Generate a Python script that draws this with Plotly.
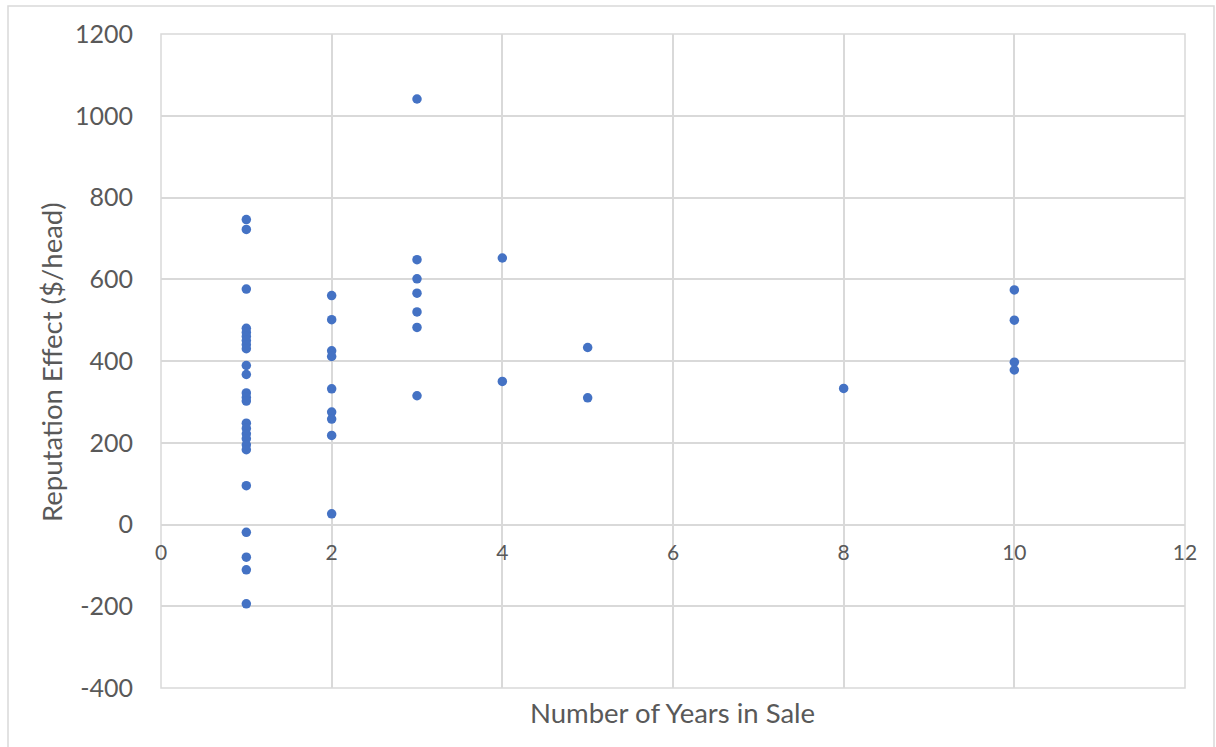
import plotly.graph_objects as go

# Data
effect_y1 = [746, 722, 576, 480, 470, 460, 450, 440, 430, 389, 367, 322, 311, 302,
             248, 235, 222, 210, 195, 183, 95, -19, -80, -111, -194]
effect_y2 = [560, 501, 425, 411, 332, 275, 258, 218, 26]
effect_y3 = [1041, 648, 601, 566, 520, 482, 315]
effect_y4 = [652, 350]
effect_y5 = [433, 310]
effect_y8 = [333]
effect_y10 = [574, 500, 397, 378]

groups = [(1, effect_y1), (2, effect_y2), (3, effect_y3), (4, effect_y4),
          (5, effect_y5), (8, effect_y8), (10, effect_y10)]
years = [yr for yr, vals in groups for _ in vals]
effects = [v for _, vals in groups for v in vals]

x_ticks = [0, 2, 4, 6, 8, 10, 12]
y_ticks = [-400, -200, 0, 200, 400, 600, 800, 1000, 1200]

FONT = "Lato"
GREY_TXT = "#595959"
GRID = "#d9d9d9"

fig = go.Figure()
fig.add_trace(go.Scatter(
    x=years, y=effects, mode="markers",
    marker=dict(color="#4472C4", size=9.5, line=dict(width=0)),
    showlegend=False, hoverinfo="x+y",
))

fig.update_layout(
    width=1216, height=747,
    margin=dict(l=161, r=31, t=34, b=59),
    paper_bgcolor="white", plot_bgcolor="white",
    font=dict(family=FONT, color=GREY_TXT),
    xaxis=dict(
        range=[0, 12], tickvals=x_ticks, ticktext=[str(v) for v in x_ticks],
        showgrid=True, gridcolor=GRID, gridwidth=1.5,
        zeroline=False, showline=True, linecolor=GRID, linewidth=1.5,
        anchor="free", position=0.25,
        ticks="", tickfont=dict(size=21, color=GREY_TXT, family=FONT),
        ticklabelstandoff=10,
    ),
    yaxis=dict(
        range=[-400, 1200], tickvals=y_ticks, ticktext=[str(v) for v in y_ticks],
        showgrid=True, gridcolor=GRID, gridwidth=1.5,
        zeroline=False, showline=False,
        ticks="", tickfont=dict(size=25, color=GREY_TXT, family=FONT),
        ticklabelstandoff=27,
    ),
    shapes=[
        dict(type="rect", xref="x domain", yref="y domain", x0=0, x1=1, y0=0, y1=1,
             line=dict(color=GRID, width=1.5), layer="below"),
        dict(type="rect", xref="paper", yref="paper",
             x0=(8 - 161) / 1024, x1=(1214 - 161) / 1024,
             y0=-0.2, y1=(688 - 6) / 654,
             line=dict(color=GRID, width=1.5), layer="below"),
    ],
    annotations=[
        dict(text="Number of Years in Sale", xref="paper", yref="paper",
             x=(672 - 161) / 1024, y=(688 - 712) / 654, showarrow=False,
             xanchor="center", yanchor="middle",
             font=dict(size=27.5, color=GREY_TXT, family=FONT)),
        dict(text="Reputation Effect ($/head)", xref="paper", yref="paper",
             x=(52 - 161) / 1024, y=(688 - 362) / 654, showarrow=False,
             xanchor="center", yanchor="middle", textangle=-90,
             font=dict(size=27.5, color=GREY_TXT, family=FONT)),
    ],
)

fig.write_html("out.html")
